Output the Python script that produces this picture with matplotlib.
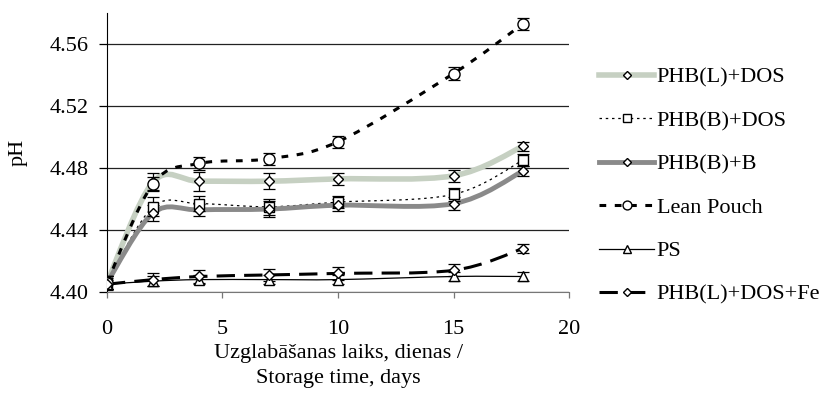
import numpy as np
import matplotlib
matplotlib.use("Agg")
import matplotlib.pyplot as plt
from matplotlib.path import Path
from matplotlib.patches import PathPatch
from matplotlib.lines import Line2D

plt.rcParams['font.family'] = ['Liberation Serif', 'DejaVu Serif']

days = [0, 2, 4, 7, 10, 15, 18]

phb_l_dos = [4.406, 4.471, 4.4715, 4.4715, 4.473, 4.475, 4.494]
phb_l_dos_err = [0.004, 0.006, 0.006, 0.005, 0.004, 0.004, 0.003]
phb_b_dos = [4.406, 4.455, 4.457, 4.455, 4.458, 4.463, 4.485]
phb_b_dos_err = [0.004, 0.006, 0.005, 0.005, 0.004, 0.004, 0.004]
phb_b_b = [4.406, 4.451, 4.453, 4.4535, 4.456, 4.457, 4.478]
phb_b_b_err = [0.004, 0.005, 0.004, 0.005, 0.004, 0.004, 0.003]
lean_pouch = [4.406, 4.470, 4.483, 4.486, 4.497, 4.541, 4.573]
lean_pouch_err = [0.004, 0.004, 0.004, 0.004, 0.004, 0.004, 0.004]
ps = [4.405, 4.407, 4.408, 4.408, 4.408, 4.410, 4.410]
ps_err = [0.003, 0.003, 0.003, 0.003, 0.003, 0.003, 0.003]
phb_l_dos_fe = [4.405, 4.408, 4.410, 4.411, 4.412, 4.414, 4.428]
phb_l_dos_fe_err = [0.004, 0.004, 0.004, 0.004, 0.004, 0.004, 0.003]

labels = ['PHB(L)+DOS', 'PHB(B)+DOS', 'PHB(B)+B', 'Lean Pouch', 'PS', 'PHB(L)+DOS+Fe']


def smooth_path(x, y):
    # Bezier segments through the points, like a spreadsheet "smoothed line"
    x = np.asarray(x, float)
    y = np.asarray(y, float)
    n = len(x)
    verts = [(x[0], y[0])]
    codes = [Path.MOVETO]
    for i in range(n - 1):
        i0 = max(i - 1, 0)
        i3 = min(i + 2, n - 1)
        c1 = (x[i] + (x[i + 1] - x[i0]) / 6, y[i] + (y[i + 1] - y[i0]) / 6)
        c2 = (x[i + 1] - (x[i3] - x[i]) / 6, y[i + 1] - (y[i3] - y[i]) / 6)
        verts += [c1, c2, (x[i + 1], y[i + 1])]
        codes += [Path.CURVE4] * 3
    return Path(verts, codes)


fig = plt.figure(figsize=(8.23, 3.97), dpi=100)
ax = fig.add_axes([0.130, 0.2645, 0.5614, 0.7025])

series = [
    (phb_l_dos, phb_l_dos_err, dict(color='#c6d0c2', lw=4.0, ls='-'), 'D', 5.5),
    (phb_b_dos, phb_b_dos_err, dict(color='black', lw=0.9, ls=(0, (2, 3))), 's', 7.5),
    (phb_b_b, phb_b_b_err, dict(color='#8a8a8a', lw=3.5, ls='-'), 'D', 5.5),
    (lean_pouch, lean_pouch_err, dict(color='black', lw=2.2, ls=(0, (2.2, 2.8))), 'o', 8),
    (ps, ps_err, dict(color='black', lw=0.9, ls='-'), '^', 7),
    (phb_l_dos_fe, phb_l_dos_fe_err, dict(color='black', lw=2.2, ls=(0, (6, 3))), 'D', 5.5),
]

handles = []
for (vals, err, style, mk, ms), lab in zip(series, labels):
    ax.add_patch(PathPatch(smooth_path(days, vals), fill=False, edgecolor=style['color'],
                           lw=style['lw'], linestyle=style['ls'], capstyle='butt', zorder=2))
    ax.errorbar(days, vals, yerr=err, fmt='none', ecolor='black', elinewidth=0.9,
                capsize=4, capthick=0.9, zorder=3)
    ax.plot(days, vals, ls='none', marker=mk, ms=ms, mfc='white', mec='black',
            mew=1.0, zorder=4)
    handles.append(Line2D([], [], color=style['color'], lw=style['lw'], ls=style['ls'],
                          marker=mk, ms=ms * 0.8, mfc='white', mec='black', mew=1.0))

ax.set_xlim(0, 20)
ax.set_ylim(4.40, 4.58)
ax.set_xticks([0, 5, 10, 15, 20])
ax.set_yticks([4.40, 4.44, 4.48, 4.52, 4.56])
ax.yaxis.set_major_formatter(matplotlib.ticker.FormatStrFormatter('%.2f'))
ax.yaxis.grid(True, color='#222222', lw=0.9)
ax.set_axisbelow(True)
for s in ['top', 'right']:
    ax.spines[s].set_visible(False)
ax.spines['left'].set_color('black')
ax.spines['bottom'].set_color('#777777')
ax.tick_params(axis='y', direction='out', length=6, width=0.9, labelsize=16, pad=7)
ax.tick_params(axis='x', direction='out', length=4, width=0.9, labelsize=16, pad=16,
               colors='#777777', labelcolor='black')

ax.set_ylabel('pH', fontsize=16, labelpad=16)
ax.set_xlabel('Uzglabāšanas laiks, dienas /\nStorage time, days', fontsize=16,
              linespacing=1.4, labelpad=4)

fig.legend(handles, labels, loc='upper left', bbox_to_anchor=(0.714, 0.859),
           frameon=False, fontsize=16, handlelength=2.5, handletextpad=0.1,
           labelspacing=1.03, borderpad=0)

fig.savefig('out.png', dpi=100)
